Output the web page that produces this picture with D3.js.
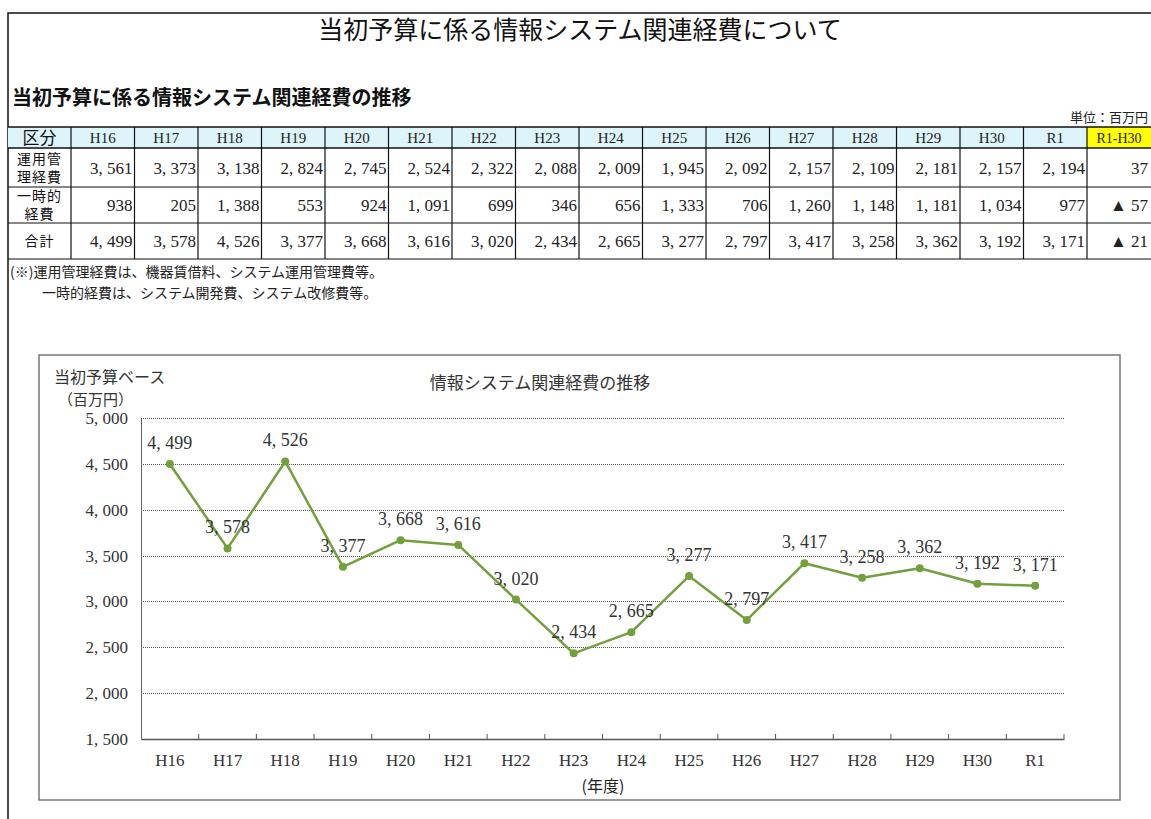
<!DOCTYPE html>
<html>
<head>
<meta charset="utf-8">
<script src="https://cdn.jsdelivr.net/npm/d3@7"></script>
<style>
  body { margin: 0; background: #fff; }
  svg { display: block; }
  .jp { font-family: "Noto Sans CJK JP", "Noto Sans", sans-serif; }
  .num { font-family: "Liberation Serif", "DejaVu Serif", serif; }
</style>
</head>
<body>
<div id="page"></div>
<script>
// data
var years = ['H16', 'H17', 'H18', 'H19', 'H20', 'H21', 'H22', 'H23', 'H24', 'H25', 'H26', 'H27', 'H28', 'H29', 'H30', 'R1'];
var unyouCost = [3561, 3373, 3138, 2824, 2745, 2524, 2322, 2088, 2009, 1945, 2092, 2157, 2109, 2181, 2157, 2194];
var ichijiCost = [938, 205, 1388, 553, 924, 1091, 699, 346, 656, 1333, 706, 1260, 1148, 1181, 1034, 977];
var totalCost = [4499, 3578, 4526, 3377, 3668, 3616, 3020, 2434, 2665, 3277, 2797, 3417, 3258, 3362, 3192, 3171];
var diffHeader = 'R1-H30';
var diffValues = ['37', '▲ 57', '▲ 21'];
var rowLabels = [['運用管', '理経費'], ['一時的', '経費'], ['合計']];
var yTicks = [1500, 2000, 2500, 3000, 3500, 4000, 4500, 5000];

var W = 1151, H = 819;
var lineColor = '#72a03c';

// "4,499" -> "4, 499" like the original font spacing
function fmt(v) {
  return d3.format(',')(v).replace(/,/g, ', ');
}

var svg = d3.select('#page')
  .append('svg')
  .attr('width', W)
  .attr('height', H);

// outer frame
svg.append('path')
  .attr('d', 'M8,' + H + 'V13H' + W)
  .attr('fill', 'none')
  .attr('stroke', '#111')
  .attr('stroke-width', 1.5);

svg.append('text')
  .attr('class', 'jp')
  .attr('x', 580)
  .attr('y', 39)
  .attr('text-anchor', 'middle')
  .attr('font-size', 25)
  .attr('fill', '#111')
  .text('当初予算に係る情報システム関連経費について');

svg.append('text')
  .attr('class', 'jp')
  .attr('x', 12)
  .attr('y', 105)
  .attr('font-size', 20)
  .attr('font-weight', 'bold')
  .attr('fill', '#111')
  .text('当初予算に係る情報システム関連経費の推移');

svg.append('text')
  .attr('class', 'jp')
  .attr('x', 1148)
  .attr('y', 122)
  .attr('text-anchor', 'end')
  .attr('font-size', 13)
  .attr('fill', '#222')
  .text('単位：百万円');

// ---------- table ----------
var rowEdges = [127, 148, 187, 223, 259];
var firstCol = [8, 71];
var colX = d3.scaleBand()
  .domain(years)
  .range([71, 1087]);
var diffCol = [1087, W];
var tableRows = [unyouCost, ichijiCost, totalCost];

var gTable = svg.append('g');

// header backgrounds
gTable.append('rect')
  .attr('x', firstCol[0])
  .attr('y', rowEdges[0])
  .attr('width', diffCol[0] - firstCol[0])
  .attr('height', rowEdges[1] - rowEdges[0])
  .attr('fill', '#dcf4fa');
gTable.append('rect')
  .attr('x', diffCol[0])
  .attr('y', rowEdges[0])
  .attr('width', diffCol[1] - diffCol[0])
  .attr('height', rowEdges[1] - rowEdges[0])
  .attr('fill', '#ffff00');

// header texts
gTable.append('text')
  .attr('class', 'jp')
  .attr('x', (firstCol[0] + firstCol[1]) / 2)
  .attr('y', 144)
  .attr('text-anchor', 'middle')
  .attr('font-size', 17)
  .attr('fill', '#111')
  .text('区分');

gTable.selectAll('.yearHead')
  .data(years)
  .enter()
  .append('text')
  .attr('class', 'yearHead num')
  .attr('x', d => colX(d) + colX.bandwidth() / 2)
  .attr('y', 143)
  .attr('text-anchor', 'middle')
  .attr('font-size', 15)
  .attr('fill', '#222')
  .text(d => d);

gTable.append('text')
  .attr('class', 'num')
  .attr('x', (diffCol[0] + diffCol[1]) / 2)
  .attr('y', 143)
  .attr('text-anchor', 'middle')
  .attr('font-size', 14)
  .attr('fill', '#222')
  .text(diffHeader);

// row labels
rowLabels.forEach(function (lines, i) {
  var mid = (rowEdges[i + 1] + rowEdges[i + 2]) / 2;
  var t = gTable.append('text')
    .attr('class', 'jp')
    .attr('x', (firstCol[0] + firstCol[1]) / 2)
    .attr('text-anchor', 'middle')
    .attr('font-size', 14)
    .attr('letter-spacing', 1)
    .attr('fill', '#111');
  lines.forEach(function (s, j) {
    t.append('tspan')
      .attr('x', (firstCol[0] + firstCol[1]) / 2)
      .attr('y', mid + 5 + (j - (lines.length - 1) / 2) * 18)
      .text(s);
  });
});

// values
tableRows.forEach(function (vals, i) {
  var mid = (rowEdges[i + 1] + rowEdges[i + 2]) / 2;
  gTable.selectAll('.val' + i)
    .data(vals)
    .enter()
    .append('text')
    .attr('class', 'val' + i + ' num')
    .attr('x', (d, k) => colX(years[k]) + colX.bandwidth() - 2)
    .attr('y', mid + 6)
    .attr('text-anchor', 'end')
    .attr('font-size', 17)
    .attr('fill', '#222')
    .text(d => fmt(d));

  gTable.append('text')
    .attr('class', 'num')
    .attr('x', W - 3)
    .attr('y', mid + 6)
    .attr('text-anchor', 'end')
    .attr('font-size', 17)
    .attr('fill', '#222')
    .text(diffValues[i]);
});

// grid lines of the table
rowEdges.forEach(function (y, i) {
  gTable.append('line')
    .attr('x1', firstCol[0])
    .attr('x2', W)
    .attr('y1', y)
    .attr('y2', y)
    .attr('stroke', '#111')
    .attr('stroke-width', i === 0 || i === 1 ? 1.5 : 1.2);
});
var vEdges = [firstCol[1]].concat(years.map(d => colX(d) + colX.bandwidth()));
vEdges.forEach(function (x) {
  gTable.append('line')
    .attr('x1', x)
    .attr('x2', x)
    .attr('y1', rowEdges[0])
    .attr('y2', rowEdges[rowEdges.length - 1])
    .attr('stroke', '#111')
    .attr('stroke-width', 1.2);
});

// notes
svg.append('text')
  .attr('class', 'jp')
  .attr('x', 10)
  .attr('y', 277)
  .attr('font-size', 14)
  .attr('fill', '#222')
  .text('(※)運用管理経費は、機器賃借料、システム運用管理費等。');
svg.append('text')
  .attr('class', 'jp')
  .attr('x', 42)
  .attr('y', 298)
  .attr('font-size', 14)
  .attr('fill', '#222')
  .text('一時的経費は、システム開発費、システム改修費等。');

// ---------- chart ----------
svg.append('rect')
  .attr('x', 39)
  .attr('y', 355)
  .attr('width', 1081)
  .attr('height', 445)
  .attr('fill', '#fff')
  .attr('stroke', '#777')
  .attr('stroke-width', 1.5);

var margin = { left: 141, right: 1064, top: 418, bottom: 739 };

var x = d3.scaleBand()
  .domain(years)
  .range([margin.left, margin.right]);
var y = d3.scaleLinear()
  .domain([1500, 5000])
  .range([margin.bottom, margin.top]);

svg.append('text')
  .attr('class', 'jp')
  .attr('x', 540)
  .attr('y', 389)
  .attr('text-anchor', 'middle')
  .attr('font-size', 17)
  .attr('fill', '#333')
  .text('情報システム関連経費の推移');

svg.append('text')
  .attr('class', 'jp')
  .attr('x', 54)
  .attr('y', 383)
  .attr('font-size', 16)
  .attr('fill', '#333')
  .text('当初予算ベース');
svg.append('text')
  .attr('class', 'jp')
  .attr('x', 58)
  .attr('y', 405)
  .attr('font-size', 15)
  .attr('fill', '#333')
  .text('（百万円）');

// dotted grid lines
svg.append('g')
  .selectAll('line')
  .data(yTicks.filter(d => d > 1500))
  .enter()
  .append('line')
  .attr('x1', margin.left)
  .attr('x2', margin.right)
  .attr('y1', d => Math.round(y(d)) + 0.5)
  .attr('y2', d => Math.round(y(d)) + 0.5)
  .attr('stroke', '#555')
  .attr('stroke-dasharray', '1,1');

// y axis
var yAxis = svg.append('g')
  .attr('transform', 'translate(' + margin.left + ',0)')
  .call(d3.axisLeft(y)
    .tickValues(yTicks)
    .tickSize(0)
    .tickPadding(13)
    .tickFormat(fmt));
yAxis.select('.domain')
  .attr('stroke', '#666');
yAxis.selectAll('text')
  .attr('class', 'num')
  .attr('font-size', 17)
  .attr('fill', '#333');

// x axis, ticks at band edges pointing inward
var xAxis = svg.append('g')
  .attr('transform', 'translate(0,' + margin.bottom + ')')
  .call(d3.axisBottom(x)
    .tickSize(0)
    .tickPadding(15));
xAxis.select('.domain')
  .attr('stroke', '#555')
  .attr('stroke-width', 1.3);
xAxis.selectAll('text')
  .attr('class', 'num')
  .attr('font-size', 17)
  .attr('fill', '#333');
xAxis.selectAll('.edgeTick')
  .data(years.map(d => x(d) + x.bandwidth()))
  .enter()
  .append('line')
  .attr('class', 'edgeTick')
  .attr('x1', d => d)
  .attr('x2', d => d)
  .attr('y1', 0)
  .attr('y2', -5)
  .attr('stroke', '#555');

svg.append('text')
  .attr('class', 'jp')
  .attr('x', 603)
  .attr('y', 792)
  .attr('text-anchor', 'middle')
  .attr('font-size', 16)
  .attr('fill', '#222')
  .text('(年度)');

// line + markers
var line = d3.line()
  .x((d, i) => x(years[i]) + x.bandwidth() / 2)
  .y(d => y(d));

svg.append('path')
  .datum(totalCost)
  .attr('d', line)
  .attr('fill', 'none')
  .attr('stroke', lineColor)
  .attr('stroke-width', 2.5)
  .attr('stroke-linejoin', 'round');

svg.selectAll('.dot')
  .data(totalCost)
  .enter()
  .append('circle')
  .attr('class', 'dot')
  .attr('cx', (d, i) => x(years[i]) + x.bandwidth() / 2)
  .attr('cy', d => y(d))
  .attr('r', 4)
  .attr('fill', lineColor);

// data labels above the points
svg.selectAll('.dataLabel')
  .data(totalCost)
  .enter()
  .append('text')
  .attr('class', 'dataLabel num')
  .attr('x', (d, i) => x(years[i]) + x.bandwidth() / 2)
  .attr('y', d => y(d) - 15)
  .attr('text-anchor', 'middle')
  .attr('font-size', 18)
  .attr('fill', '#333')
  .text(d => fmt(d));
</script>
</body>
</html>
